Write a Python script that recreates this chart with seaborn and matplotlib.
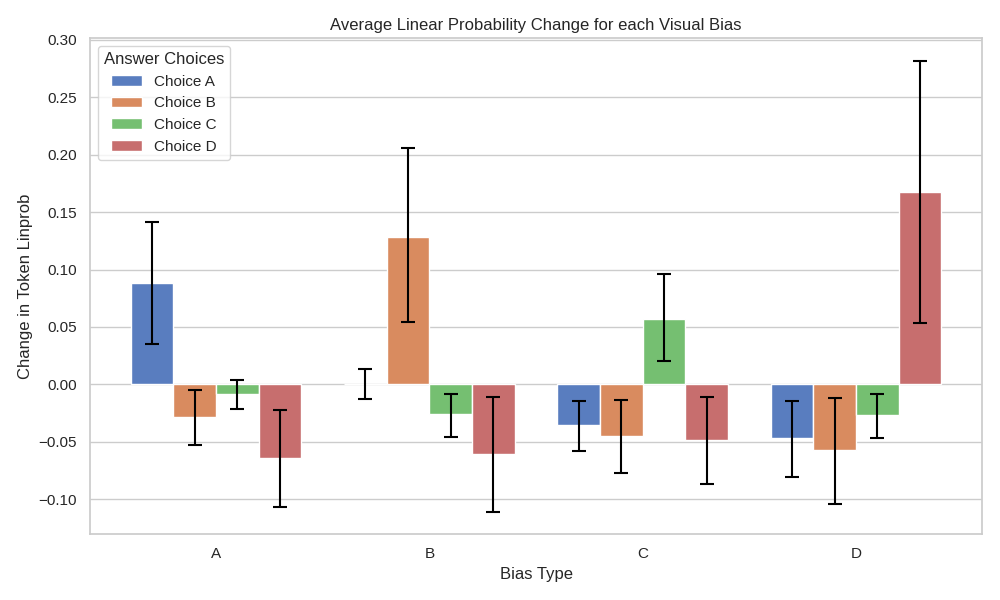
import seaborn as sns
import matplotlib.pyplot as plt
import pandas as pd

# Values
bias_types = ['A', 'B', 'C', 'D']
choices = ['Choice A', 'Choice B', 'Choice C', 'Choice D']

# mean change per bias type, one list per answer choice
choice_a = [0.088, 0.0003, -0.035, -0.0465]
choice_b = [-0.0285, 0.1286, -0.0448, -0.057]
choice_c = [-0.0081, -0.0256, 0.0573, -0.0265]
choice_d = [-0.064, -0.0605, -0.0483, 0.1673]

# error bar bounds (low, high)
low_a = [0.0355, -0.0131, -0.0576, -0.0803]
high_a = [0.1416, 0.0137, -0.0148, -0.0143]
low_b = [-0.0526, 0.0547, -0.0771, -0.1041]
high_b = [-0.0052, 0.2057, -0.014, -0.0116]
low_c = [-0.0218, -0.0454, 0.0207, -0.0465]
high_c = [0.0035, -0.0081, 0.0957, -0.0081]
low_d = [-0.1065, -0.1108, -0.0867, 0.0538]
high_d = [-0.0227, -0.011, -0.0108, 0.2816]

means = [choice_a, choice_b, choice_c, choice_d]
lows = [low_a, low_b, low_c, low_d]
highs = [high_a, high_b, high_c, high_d]

rows = []
for ch, vals in zip(choices, means):
    for bt, v in zip(bias_types, vals):
        rows.append({'Bias Type': bt, 'Answer Choices': ch, 'Change': v})
df = pd.DataFrame(rows)

sns.set_theme(style="whitegrid")
plt.rcParams['font.family'] = ['Liberation Sans', 'DejaVu Sans']

fig, ax = plt.subplots(figsize=(10, 6), dpi=100)
sns.barplot(data=df, x='Bias Type', y='Change', hue='Answer Choices',
            hue_order=choices, order=bias_types, palette='muted',
            errorbar=None, ax=ax)

# error bars at the bar centres that seaborn placed
for container, vals, lo, hi in zip(ax.containers, means, lows, highs):
    xs = [b.get_x() + b.get_width() / 2 for b in container]
    yerr = [[v - l for v, l in zip(vals, lo)], [h - v for v, h in zip(vals, hi)]]
    ax.errorbar(xs, vals, yerr=yerr, fmt='none', ecolor='black',
                capsize=5, elinewidth=1.5, capthick=1.5)

ax.set_title("Average Linear Probability Change for each Visual Bias")
ax.set_xlabel("Bias Type")
ax.set_ylabel("Change in Token Linprob")
ax.legend(title="Answer Choices", loc='upper left')

plt.tight_layout()
plt.savefig("out.png")
